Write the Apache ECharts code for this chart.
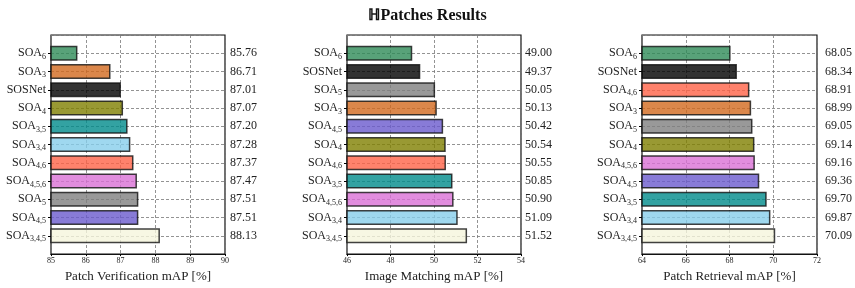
<!DOCTYPE html>
<html>
<head>
<meta charset="utf-8">
<script src="https://cdn.jsdelivr.net/npm/echarts@6/dist/echarts.min.js"></script>
<style>
  html, body { margin: 0; padding: 0; background: #fff; }
  #chart { width: 855px; height: 288px; }
</style>
</head>
<body>
<div id="chart"></div>
<script>
// categories top -> bottom, values per panel
var verifNames = ['SOA6', 'SOA3', 'SOSNet', 'SOA4', 'SOA3,5', 'SOA3,4', 'SOA4,6', 'SOA4,5,6', 'SOA5', 'SOA4,5', 'SOA3,4,5'];
var verifValues = [85.76, 86.71, 87.01, 87.07, 87.20, 87.28, 87.37, 87.47, 87.51, 87.51, 88.13];

var matchNames = ['SOA6', 'SOSNet', 'SOA5', 'SOA3', 'SOA4,5', 'SOA4', 'SOA4,6', 'SOA3,5', 'SOA4,5,6', 'SOA3,4', 'SOA3,4,5'];
var matchValues = [49.00, 49.37, 50.05, 50.13, 50.42, 50.54, 50.55, 50.85, 50.90, 51.09, 51.52];

var retrNames = ['SOA6', 'SOSNet', 'SOA4,6', 'SOA3', 'SOA5', 'SOA4', 'SOA4,5,6', 'SOA4,5', 'SOA3,5', 'SOA3,4', 'SOA3,4,5'];
var retrValues = [68.05, 68.34, 68.91, 68.99, 69.05, 69.14, 69.16, 69.36, 69.70, 69.87, 70.09];

var axisTitles = ['Patch Verification mAP [%]', 'Image Matching mAP [%]', 'Patch Retrieval mAP [%]'];
var xRanges = [[85, 90, 1], [46, 54, 2], [64, 72, 2]];

// one colour per method
var methodColor = {
  'SOA6': '#2e8b57',
  'SOA3': '#d2691e',
  'SOSNet': '#000000',
  'SOA4': '#808000',
  'SOA3,5': '#008b8b',
  'SOA3,4': '#87ceeb',
  'SOA4,6': '#ff6347',
  'SOA4,5,6': '#da70d6',
  'SOA5': '#808080',
  'SOA4,5': '#6a5acd',
  'SOA3,4,5': '#f5f5dc'
};

var FONT = 'Liberation Serif, DejaVu Serif, serif';

var panels = [
  { names: verifNames, values: verifValues, left: 51, width: 174, valGap: 5 },
  { names: matchNames, values: matchValues, left: 347, width: 174, valGap: 4 },
  { names: retrNames, values: retrValues, left: 642, width: 175, valGap: 8 }
];

function labelFmt(name) {
  if (name.indexOf('SOA') === 0) return 'SOA{s|' + name.slice(3) + '}';
  return name;
}

var grids = [], xAxes = [], yAxes = [], series = [];

panels.forEach(function (p, i) {
  // pad with an empty slot at each end so the bars sit inside the frame
  var cats = [''].concat(p.names, ['']);
  var valTxt = [''].concat(p.values.map(function (v) { return v.toFixed(2); }), ['']);
  var data = ['-'].concat(p.values.map(function (v, k) {
    return { value: v, itemStyle: { color: methodColor[p.names[k]] } };
  }), ['-']);

  grids.push({
    left: p.left, top: 35, width: p.width, height: 223,
    show: true, borderColor: '#111', borderWidth: 1.2, backgroundColor: 'transparent'
  });

  xAxes.push({
    type: 'value', gridIndex: i,
    min: xRanges[i][0], max: xRanges[i][1], interval: xRanges[i][2],
    name: axisTitles[i], nameLocation: 'middle', nameGap: 11,
    nameTextStyle: { fontFamily: FONT, fontSize: 13, color: '#222' },
    axisLine: { show: true, lineStyle: { color: '#111', width: 1.2 } },
    axisTick: { show: true, length: 2, lineStyle: { color: '#000' } },
    axisLabel: { fontFamily: FONT, fontSize: 8, color: '#222', margin: 3 },
    splitLine: { show: true, lineStyle: { color: '#777', type: [3, 2], width: 0.8 } }
  });

  yAxes.push({
    type: 'category', gridIndex: i, data: cats, inverse: true, boundaryGap: false,
    axisLine: { show: false },
    axisTick: {
      show: true, length: 3, lineStyle: { color: '#000' },
      interval: function (idx, val) { return val !== ''; }
    },
    axisLabel: {
      interval: 0, margin: 5, fontFamily: FONT, fontSize: 12, color: '#222', lineHeight: 15,
      formatter: labelFmt,
      rich: {
        s: { fontFamily: FONT, fontSize: 8, lineHeight: 10, verticalAlign: 'bottom', color: '#222' }
      }
    },
    splitLine: { show: true, lineStyle: { color: '#777', type: [3, 2], width: 0.8 } }
  });

  yAxes.push({
    type: 'category', gridIndex: i, data: valTxt, inverse: true, boundaryGap: false,
    position: 'right',
    axisLine: { show: false }, axisTick: { show: false }, splitLine: { show: false },
    axisLabel: { interval: 0, margin: p.valGap, fontFamily: FONT, fontSize: 12, color: '#222' }
  });

  series.push({
    type: 'bar', xAxisIndex: i, yAxisIndex: 2 * i,
    data: data, barWidth: 15,
    itemStyle: { borderColor: '#111', borderWidth: 1.5, opacity: 0.8 },
    silent: true
  });
});

var chart = echarts.init(document.getElementById('chart'));
chart.setOption({
  animation: false,
  backgroundColor: '#fff',
  title: {
    text: '\u210dPatches Results', left: 'center', top: 3,
    textStyle: { fontFamily: FONT, fontSize: 16, fontWeight: 'bold', color: '#111' }
  },
  grid: grids,
  xAxis: xAxes,
  yAxis: yAxes,
  series: series
});
</script>
</body>
</html>
